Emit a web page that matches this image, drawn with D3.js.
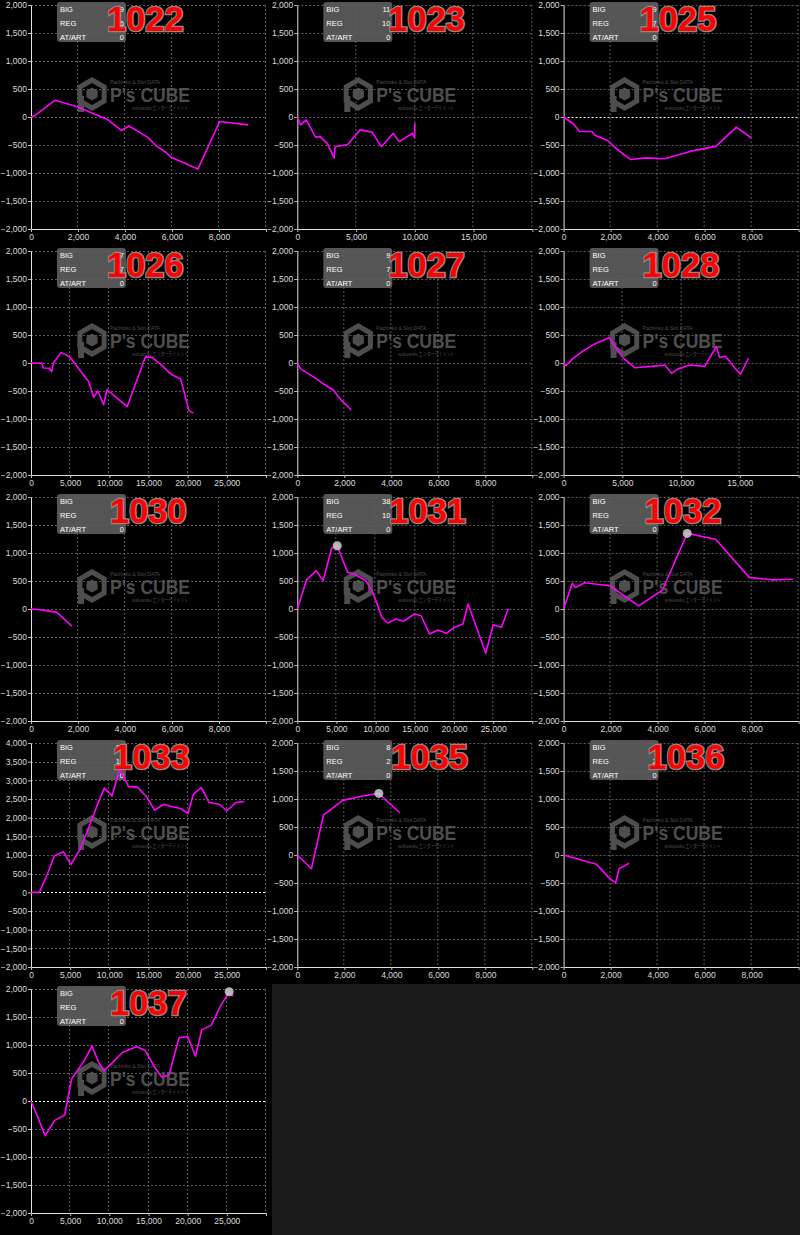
<!DOCTYPE html>
<html><head><meta charset="utf-8">
<script src="https://cdn.jsdelivr.net/npm/d3@7"></script>
<style>html,body{margin:0;padding:0;background:#000;} svg{display:block}</style>
</head><body><svg id="c" width="800" height="1235"></svg>
<script>
// ---------- data ----------
const panelIds = ["1022","1023","1025","1026","1027","1028","1030","1031","1032","1033","1035","1036","1037"];
const xMax      = [10000,20000,10000,30000,10000,20000,10000,30000,10000,30000,10000,10000,30000];
const xStep     = [2000,5000,2000,5000,2000,5000,2000,5000,2000,5000,2000,2000,5000];
const yMin      = [-2000,-2000,-2000,-2000,-2000,-2000,-2000,-2000,-2000,-2000,-2000,-2000,-2000];
const yMax      = [2000,2000,2000,2000,2000,2000,2000,2000,2000,4000,2000,2000,2000];
const bigCount  = [9,11,9,7,9,3,1,38,5,20,8,1,22];
const regCount  = [6,10,7,7,7,3,1,10,4,10,2,2,12];
const artCount  = [0,0,0,0,0,0,0,0,0,0,0,0,0];
const boxLabels = ["BIG","REG","AT/ART"];
const markerPanels = ["1031","1032","1035","1037"];
const zeroHighlightPanels = ["1025","1033","1037"];

const s1022 = [[0,0],[150,20],[1030,300],[2000,180],[2670,60],[3240,-40],[3840,-240],[4170,-160],[4960,-360],[5310,-510],[5740,-630],[5960,-720],[7100,-930],[8030,-80],[9240,-140]];
const s1023 = [[0,0],[280,-140],[760,-50],[1550,-360],[1950,-350],[2540,-470],[3140,-730],[3220,-530],[4290,-490],[5340,-230],[6360,-270],[7150,-530],[8160,-290],[8670,-440],[9800,-290],[9980,-370],[10010,-110]];
const s1025 = [[0,0],[420,-125],[680,-260],[1220,-260],[1310,-320],[1870,-420],[2250,-570],[2860,-760],[3520,-730],[4300,-745],[5420,-610],[6480,-525],[7350,-180],[7990,-375]];
const s1026 = [[0,0],[1370,0],[1580,-90],[2350,-95],[2650,-155],[2860,0],[3850,190],[4920,110],[7350,-330],[7990,-610],[8550,-505],[9270,-745],[9700,-475],[12270,-780],[14620,110],[15470,100],[16540,-20],[17820,-195],[19100,-285],[20170,-850],[20730,-895]];
const s1027 = [[0,0],[140,-105],[290,-145],[790,-275],[1140,-380],[1570,-495],[1710,-585],[1930,-690],[2070,-740],[2290,-840]];
const s1028 = [[0,0],[200,-50],[710,65],[1550,200],[2680,345],[3870,450],[5090,85],[6070,-85],[7490,-60],[8620,-35],[9180,-185],[9750,-105],[10730,-35],[12010,-60],[12990,290],[13280,100],[13790,120],[14550,-85],[15060,-200],[15730,85]];
const s1030 = [[0,0],[530,-20],[1100,-60],[1740,-305]];
const s1031 = [[0,0],[1200,525],[2440,685],[3290,505],[4400,1090],[5100,1130],[6410,655],[7270,625],[8760,505],[9620,300],[10260,60],[10810,-150],[11540,-250],[12610,-180],[13550,-220],[14960,-90],[15810,-120],[16880,-445],[17950,-375],[19020,-435],[20090,-325],[21150,-270],[21800,90],[24060,-790],[25000,-280],[26070,-325],[26920,0]];
const s1032 = [[0,0],[370,460],[510,385],[900,470],[1970,415],[3190,55],[4210,340],[5260,1350],[6470,1245],[7900,565],[8900,520],[9760,530]];
const s1033 = [[0,0],[1070,0],[2010,445],[2990,980],[4150,1085],[5090,740],[6280,1160],[7220,1650],[8420,2315],[9360,2790],[10340,2585],[11330,3300],[12480,2825],[13550,2825],[14830,2540],[15770,2200],[16970,2360],[18030,2290],[19100,2245],[20040,2110],[20730,2630],[21750,2805],[22740,2405],[24020,2360],[25000,2185],[26150,2405],[27220,2435]];
const s1035 = [[0,0],[600,-245],[1110,710],[1930,975],[2790,1055],[3470,1100],[3810,965],[4360,755]];
const s1036 = [[0,0],[1400,-165],[1900,-395],[2210,-500],[2360,-245],[2790,-145]];
const s1037 = [[0,0],[900,-300],[1800,-620],[3000,-350],[4300,-250],[5200,400],[6000,560],[6700,700],[7800,980],[8600,700],[9300,540],[10500,700],[11700,870],[13500,970],[14600,900],[15800,600],[16700,430],[17600,460],[18900,1130],[20000,1150],[21000,800],[21800,1270],[23000,1350],[24200,1700],[25300,1950],[25800,1870]];
const seriesList = [s1022,s1023,s1025,s1026,s1027,s1028,s1030,s1031,s1032,s1033,s1035,s1036,s1037];

// ---------- layout ----------
const titleX = [107,122,107,107,122,110,110,123,112,113,125,115,110];
const COLW = 266.3, ROWH = 246, PL = 31, PT = 5, PW = 235, PH = 224;
const FONT = "'Liberation Sans', Arial, sans-serif";
const fmt = d3.format(",");

const svg = d3.select("#c");
svg.append("rect").attr("width",800).attr("height",1235).attr("fill","#000");
svg.append("rect").attr("x",272).attr("y",984).attr("width",528).attr("height",251).attr("fill","#1b1b1b");

panelIds.forEach((id,i) => {
  const col = i % 3, row = Math.floor(i / 3);
  const g = svg.append("g").attr("transform", `translate(${col*COLW},${row*ROWH})`);
  const x = d3.scaleLinear().domain([0, xMax[i]]).range([PL, PL+PW]);
  const y = d3.scaleLinear().domain([yMin[i], yMax[i]]).range([PT+PH, PT]);
  const xTicks = d3.range(0, xMax[i] + 1, xStep[i]);
  const yTicks = d3.range(yMin[i], yMax[i] + 1, 500);

  // watermark
  const wm = g.append("g").attr("fill","#4e4e4e");
  const cx = 92, cy = 94;
  const hex = r => d3.range(6).map(k => { const a = Math.PI/3*k - Math.PI/2; return [cx + r*Math.cos(a), cy + r*Math.sin(a)]; });
  wm.append("path").attr("d", d3.line()(hex(14)) + "Z").attr("fill","none").attr("stroke","#4e4e4e").attr("stroke-width",5);
  wm.append("path").attr("d", d3.line()(hex(6.5)) + "Z").attr("fill","#4e4e4e");
  wm.append("rect").attr("x",78).attr("y",96).attr("width",6).attr("height",16).attr("fill","#4e4e4e");
  wm.append("text").attr("x",110).attr("y",84).attr("font-size",5).attr("font-family",FONT)
    .attr("textLength",50).attr("lengthAdjust","spacingAndGlyphs").text("Pachinko & Slot DATA");
  wm.append("text").attr("x",110).attr("y",102).attr("font-size",20).attr("font-weight","bold").attr("font-family",FONT)
    .attr("textLength",80).attr("lengthAdjust","spacingAndGlyphs").text("P's CUBE");
  wm.append("text").attr("x",132).attr("y",110).attr("font-size",5.5).attr("font-family","'Noto Sans CJK JP', sans-serif")
    .attr("textLength",56).attr("lengthAdjust","spacingAndGlyphs").text("wakuwaku エンターテイメント");

  // grid
  const grid = g.append("g").attr("stroke-width",1).attr("stroke-dasharray","2,2");
  yTicks.filter(t => t !== yMin[i]).forEach(t => {
    const hl = t === 0 && zeroHighlightPanels.includes(id);
    grid.append("line").attr("x1",PL).attr("x2",PL+PW).attr("y1",Math.round(y(t))+0.5).attr("y2",Math.round(y(t))+0.5)
      .attr("stroke", hl ? "#ffffff" : "#5c5c5c");
  });
  xTicks.filter(t => t !== 0).forEach(t => {
    grid.append("line").attr("y1",PT).attr("y2",PT+PH).attr("x1",Math.round(x(t))-0.5).attr("x2",Math.round(x(t))-0.5)
      .attr("stroke","#5c5c5c");
  });

  // axes
  const ya = g.append("g").attr("transform",`translate(${PL},0)`)
    .call(d3.axisLeft(y).tickValues(yTicks).tickFormat(fmt).tickSize(3).tickSizeOuter(0).tickPadding(1));
  const xa = g.append("g").attr("transform",`translate(0,${PT+PH})`)
    .call(d3.axisBottom(x).tickValues(xTicks).tickFormat(d => d === xMax[i] ? "" : fmt(d)).tickSize(3).tickSizeOuter(0).tickPadding(2));
  [ya, xa].forEach(a => {
    a.select(".domain").attr("stroke","#e0e0e0");
    a.selectAll(".tick line").attr("stroke","#bbbbbb");
    a.selectAll("text").attr("fill","#dcdcdc").attr("font-size",8.5).attr("font-family",FONT);
  });

  // info box
  g.append("rect").attr("x",57).attr("y",2).attr("width",69).attr("height",40).attr("rx",3)
    .attr("fill","#5e5e5e").attr("fill-opacity",0.9);
  const vals = [bigCount[i], regCount[i], artCount[i]];
  boxLabels.forEach((lb,k) => {
    g.append("text").attr("x",60).attr("y",11.5 + k*14).attr("fill","#fff").attr("font-size",7.5).attr("font-family",FONT).text(lb);
    g.append("text").attr("x",124).attr("y",11.5 + k*14).attr("fill","#fff").attr("font-size",7.5).attr("font-family",FONT)
      .attr("text-anchor","end").text(vals[k]);
  });

  // line
  const data = seriesList[i];
  g.append("path").datum(data).attr("fill","none").attr("stroke","#ff00ff").attr("stroke-width",1.6)
    .attr("stroke-linejoin","round")
    .attr("d", d3.line().x(d => x(d[0])).y(d => y(d[1])));

  if (markerPanels.includes(id)) {
    const mx = data.reduce((a,b) => b[1] > a[1] ? b : a);
    g.append("circle").attr("cx",x(mx[0])).attr("cy",y(mx[1])).attr("r",4.5)
      .attr("fill","#d0d0d0").attr("fill-opacity",0.85);
  }

  // title
  g.append("text").attr("x",titleX[i]).attr("y",31).attr("font-size",34.5).attr("font-weight","bold")
    .attr("font-family",FONT).attr("fill","#ff0000").attr("stroke","#8a8a8a").attr("stroke-width",2.5)
    .attr("paint-order","stroke").text(id);
});
</script></body></html>
